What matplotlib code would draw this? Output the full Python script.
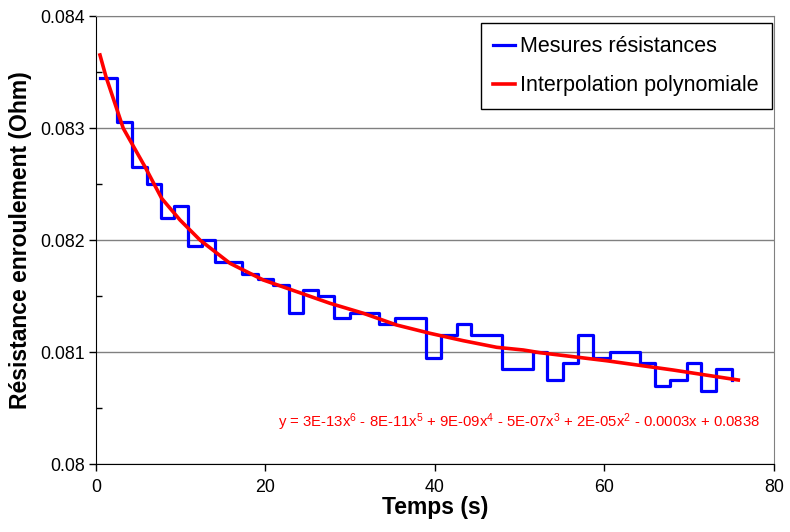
import numpy as np
import matplotlib.pyplot as plt
from matplotlib.ticker import MultipleLocator

plt.rcParams['font.family'] = ['Liberation Sans', 'DejaVu Sans']
plt.rcParams['mathtext.fontset'] = 'custom'
plt.rcParams['mathtext.rm'] = 'Liberation Sans'
plt.rcParams['mathtext.it'] = 'Liberation Sans'

# measured resistance (step changes), time in s
t_mes = [0.47, 2.44, 4.29, 5.98, 7.63, 9.2, 10.9, 12.47, 14.04, 17.26,
         19.15, 20.9, 22.77, 24.46, 26.23, 28.08, 29.97, 33.43, 35.28, 38.9,
         40.7, 42.6, 44.3, 47.9, 51.6, 53.25, 55.14, 56.9, 58.7, 60.65,
         64.2, 65.96, 67.7, 69.77, 71.35, 73.2, 75.1]
r_mes = [0.08345, 0.08305, 0.08265, 0.0825, 0.0822, 0.0823, 0.08195, 0.082, 0.0818, 0.0817,
         0.08165, 0.0816, 0.08135, 0.08155, 0.0815, 0.0813, 0.08135, 0.08125, 0.0813, 0.08095,
         0.08115, 0.08125, 0.08115, 0.08085, 0.081, 0.08075, 0.0809, 0.08115, 0.08095, 0.081,
         0.0809, 0.0807, 0.08075, 0.0809, 0.08065, 0.08085, 0.08075]

# polynomial trendline, points
t_poly = [0.47, 1.18, 3.22, 5.78, 7.75, 9.91, 12.27, 15.81, 19.74, 22.89,
          27.61, 31.54, 35.48, 39.41, 43.34, 47.28, 50.42, 52.39, 60.26, 68.12, 75.79]
r_poly = [0.083652, 0.083458, 0.082997, 0.082654, 0.082372, 0.082179, 0.082, 0.081792, 0.081643, 0.08156,
          0.081435, 0.081346, 0.081241, 0.081167, 0.081101, 0.081042, 0.081018, 0.080994, 0.080922, 0.080839, 0.08075]

equation = (r'y = 3E-13x$^{6}$ - 8E-11x$^{5}$ + 9E-09x$^{4}$ - 5E-07x$^{3}$'
            r' + 2E-05x$^{2}$ - 0.0003x + 0.0838')

fig = plt.figure(figsize=(7.9, 5.32), dpi=100)
ax = fig.add_axes([0.1215, 0.1278, 0.8582, 0.8421])

ax.step(t_mes, r_mes, where='post', color='#0000FF', lw=2.3, label='Mesures résistances')
ax.plot(t_poly, r_poly, color='#FF0000', lw=2.6, label='Interpolation polynomiale')

ax.set_xlim(0, 80)
ax.set_ylim(0.080, 0.084)
ax.xaxis.set_major_locator(MultipleLocator(20))
ax.yaxis.set_minor_locator(MultipleLocator(0.0005))
ax.set_yticks([0.080, 0.081, 0.082, 0.083, 0.084], ['0.08', '0.081', '0.082', '0.083', '0.084'])

ax.tick_params(axis='both', which='major', direction='out', length=5, width=1, labelsize=12.8, pad=3)
ax.tick_params(axis='x', which='major', pad=6)
ax.tick_params(axis='y', which='minor', direction='in', length=4, width=1)
ax.grid(axis='y', which='major', color='#808080', lw=1)
ax.set_axisbelow(True)

for s in ['top', 'right']:
    ax.spines[s].set_color('#808080')
for s in ['left', 'bottom']:
    ax.spines[s].set_color('black')

ax.set_xlabel('Temps (s)', fontsize=16.5, fontweight='bold', labelpad=0)
ax.set_ylabel('Résistance enroulement (Ohm)', fontsize=16.5, fontweight='bold', labelpad=6)

ax.text(21.5, 0.08037, equation, color='#FF0000', fontsize=10.7, ha='left', va='center')

leg = ax.legend(loc='upper right', bbox_to_anchor=(0.997, 0.984), borderaxespad=0,
                fontsize=15.5, handlelength=1.0, handletextpad=0.25, labelspacing=0.85,
                borderpad=0.6, fancybox=False, framealpha=1, edgecolor='black')
leg.get_frame().set_linewidth(1)

fig.savefig('out.png', dpi=100)
